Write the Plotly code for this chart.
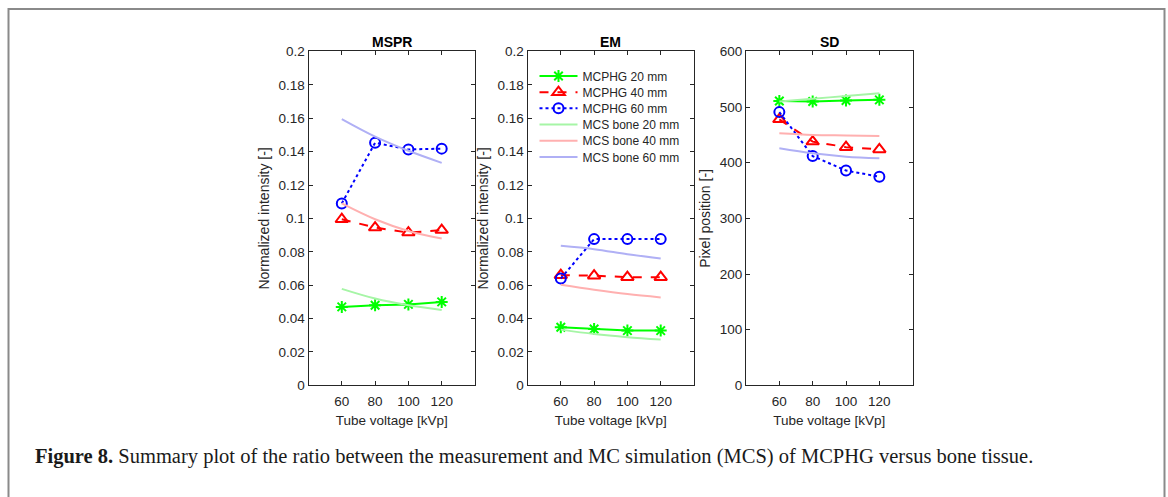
import plotly.graph_objects as go

# ---------------- data ----------------
kvp = [60, 80, 100, 120]

# MSPR panel
mspr_mcphg20 = [0.0470, 0.0480, 0.0485, 0.0500]
mspr_mcphg40 = [0.0995, 0.0945, 0.0915, 0.0930]
mspr_mcphg60 = [0.1090, 0.1453, 0.1413, 0.1418]
mspr_mcs20 = [0.0578, 0.0520, 0.0480, 0.0452]
mspr_mcs40 = [0.1090, 0.0995, 0.0925, 0.0880]
mspr_mcs60 = [0.1595, 0.1490, 0.1405, 0.1333]

# EM panel
em_mcphg20 = [0.0348, 0.0338, 0.0328, 0.0328]
em_mcphg40 = [0.0660, 0.0657, 0.0648, 0.0648]
em_mcphg60 = [0.0640, 0.0876, 0.0876, 0.0876]
em_mcs20 = [0.0334, 0.0308, 0.0289, 0.0275]
em_mcs40 = [0.0603, 0.0573, 0.0547, 0.0527]
em_mcs60 = [0.0836, 0.0816, 0.0786, 0.0760]

# SD panel
sd_mcphg20 = [511, 510, 512, 513]
sd_mcphg40 = [478, 438, 428, 424]
sd_mcphg60 = [491, 412, 386, 375]
sd_mcs20 = [510, 515, 520, 525]
sd_mcs40 = [453, 450, 449, 448]
sd_mcs60 = [426, 417, 411, 408]

panel_titles = ["MSPR", "EM", "SD"]
series_names = ["MCPHG 20 mm", "MCPHG 40 mm", "MCPHG 60 mm",
                "MCS bone 20 mm", "MCS bone 40 mm", "MCS bone 60 mm"]

x_tickvals = [60, 80, 100, 120]
x_ticktext = ["60", "80", "100", "120"]
ni_tickvals = [0, 0.02, 0.04, 0.06, 0.08, 0.1, 0.12, 0.14, 0.16, 0.18, 0.2]
ni_ticktext = ["0", "0.02", "0.04", "0.06", "0.08", "0.1", "0.12", "0.14", "0.16", "0.18", "0.2"]
sd_tickvals = [0, 100, 200, 300, 400, 500, 600]
sd_ticktext = ["0", "100", "200", "300", "400", "500", "600"]

caption_bold = "Figure 8."
caption_rest = " Summary plot of the ratio between the measurement and MC simulation (MCS) of MCPHG versus bone tissue."

# ---------------- styles ----------------
W, H = 1168, 497
GREEN, RED, BLUE = "#00ff00", "#ff0000", "#0000ff"
LGREEN, LRED, LBLUE = "#a6f5a6", "#ffb0b0", "#b0b0f5"
AX = "#262626"
FONT = "Liberation Sans, Arial, Helvetica, sans-serif"

def px(x):
    return x / W

def py(y):
    # vertical placement helper (pixels from top -> paper fraction),
    # corrected for the slight vertical squeeze seen in the capture
    yc = 218 + (y - 218) / 0.97
    return (H - yc) / H

x_domains = [[px(308.5), px(475)], [px(527.5), px(694)], [px(746), px(912.7)]]
y_domain = [py(385), py(51)]

panels = [
    (mspr_mcphg20, mspr_mcphg40, mspr_mcphg60, mspr_mcs20, mspr_mcs40, mspr_mcs60),
    (em_mcphg20, em_mcphg40, em_mcphg60, em_mcs20, em_mcs40, em_mcs60),
    (sd_mcphg20, sd_mcphg40, sd_mcphg60, sd_mcs20, sd_mcs40, sd_mcs60),
]
legend_ids = ["legend", "legend2", "legend3", "legend4", "legend5", "legend6"]

fig = go.Figure()

meas_style = [
    dict(color=GREEN, dash="solid", symbol="asterisk-open", size=10),
    dict(color=RED, dash="dash", symbol="triangle-up-open", size=11),
    dict(color=BLUE, dash="dot", symbol="circle-open", size=10),
]
sim_colors = [LGREEN, LRED, LBLUE]

for i, data in enumerate(panels):
    xa = "x" if i == 0 else f"x{i+1}"
    ya = "y" if i == 0 else f"y{i+1}"
    for j in range(3):
        st = meas_style[j]
        fig.add_trace(go.Scatter(
            x=kvp, y=data[j], xaxis=xa, yaxis=ya, mode="lines+markers",
            name=series_names[j], showlegend=(i == 1), legend=legend_ids[j],
            line=dict(color=st["color"], width=2, dash=st["dash"]),
            marker=dict(symbol=st["symbol"], size=st["size"],
                        color=st["color"], line=dict(color=st["color"], width=2)),
        ))
    for j in range(3):
        fig.add_trace(go.Scatter(
            x=kvp, y=data[3 + j], xaxis=xa, yaxis=ya, mode="lines",
            name=series_names[3 + j], showlegend=(i == 1), legend=legend_ids[3 + j],
            line=dict(color=sim_colors[j], width=2, shape="spline"),
        ))

axis_common = dict(
    showline=True, linecolor=AX, linewidth=1, mirror="ticks",
    ticks="inside", ticklen=4, tickcolor=AX, tickwidth=1,
    showgrid=False, zeroline=False,
    tickfont=dict(family=FONT, size=13.5, color=AX),
)

layout = dict(
    width=W, height=H,
    margin=dict(l=0, r=0, t=0, b=0),
    paper_bgcolor="white", plot_bgcolor="white",
    font=dict(family=FONT, color=AX),
    showlegend=True,
)

for k, lid in enumerate(legend_ids):
    layout[lid] = dict(
        x=px(534.5), y=py(75.5 + 16.2 * k), xanchor="left", yanchor="middle",
        bgcolor="rgba(255,255,255,0)", borderwidth=0,
        font=dict(family=FONT, size=12, color=AX),
        itemwidth=38,
    )

for i in range(3):
    k = "" if i == 0 else str(i + 1)
    layout[f"xaxis{k}"] = dict(
        axis_common, domain=x_domains[i], range=[40, 140],
        tickvals=x_tickvals, ticktext=x_ticktext, ticklabelstandoff=3,
        anchor=f"y{k}",
        title=dict(text="Tube voltage [kVp]", font=dict(family=FONT, size=13.5, color=AX), standoff=7),
    )
    if i < 2:
        yt = dict(tickvals=ni_tickvals, ticktext=ni_ticktext, range=[0, 0.2])
        ytitle = "Normalized intensity [-]"
    else:
        yt = dict(tickvals=sd_tickvals, ticktext=sd_ticktext, range=[0, 600])
        ytitle = "Pixel position [-]"
    layout[f"yaxis{k}"] = dict(
        axis_common, domain=y_domain, anchor=f"x{k}", **yt, ticklabelstandoff=0,
        title=dict(text=ytitle, font=dict(family=FONT, size=14, color=AX), standoff=5),
    )

fig.update_layout(**layout)

for i, t in enumerate(panel_titles):
    fig.add_annotation(
        x=(x_domains[i][0] + x_domains[i][1]) / 2, y=py(41.5),
        xref="paper", yref="paper", xanchor="center", yanchor="middle",
        text=f"<b>{t}</b>", showarrow=False,
        font=dict(family=FONT, size=14, color="#000000"),
    )

fig.add_annotation(
    x=px(33), y=py(456), xref="paper", yref="paper", xanchor="left", yanchor="middle",
    text=f"<b>{caption_bold}</b>{caption_rest}", showarrow=False,
    font=dict(family="Liberation Serif, Times New Roman, serif", size=20.5, color="#1a1a1a"),
)

fig.add_shape(
    type="rect", xref="paper", yref="paper",
    x0=px(8.5), x1=px(1164.5), y0=-0.1, y1=py(8.5),
    line=dict(color="#8a8a8a", width=2), fillcolor="rgba(0,0,0,0)", layer="below",
)

fig.write_html("out.html", config={"displayModeBar": False},
               post_script="document.body.style.margin='0';")
